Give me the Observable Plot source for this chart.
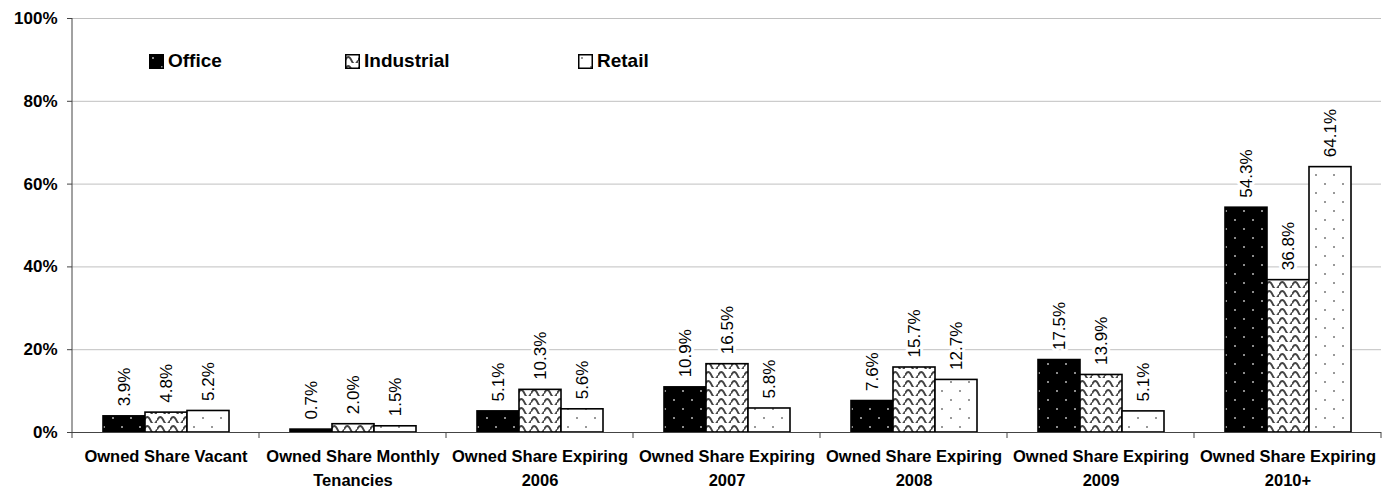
<!DOCTYPE html>
<html>
<head>
<meta charset="utf-8">
<script src="https://cdn.jsdelivr.net/npm/d3@7"></script>
<script src="https://cdn.jsdelivr.net/npm/@observablehq/plot@0.6"></script>
<style>
  html, body { margin: 0; padding: 0; background: white; }
  #wrap { position: relative; width: 1385px; height: 493px; font-family: "Liberation Sans", Arial, sans-serif; }
  .leg { position: absolute; top: 50px; display: flex; align-items: center; font-size: 19px; font-weight: bold; color: black; }
  .leg svg { margin-right: 4px; }
</style>
</head>
<body>
<div id="wrap"></div>
<script>
const categories = [
  "Owned Share Vacant",
  "Owned Share Monthly\nTenancies",
  "Owned Share Expiring\n2006",
  "Owned Share Expiring\n2007",
  "Owned Share Expiring\n2008",
  "Owned Share Expiring\n2009",
  "Owned Share Expiring\n2010+"
];
const series = ["Office", "Industrial", "Retail"];
const office     = [3.9, 0.7, 5.1, 10.9, 7.6, 17.5, 54.3];
const industrial = [4.8, 2.0, 10.3, 16.5, 15.7, 13.9, 36.8];
const retail     = [5.2, 1.5, 5.6, 5.8, 12.7, 5.1, 64.1];
const yTicks = [0, 20, 40, 60, 80, 100];

const valuesBySeries = [office, industrial, retail];
const rows = categories.flatMap((c, i) =>
  series.map((s, j) => ({category: c, series: s, value: valuesBySeries[j][i]}))
);

const chart = Plot.plot({
  width: 1385,
  height: 493,
  marginLeft: 71,
  marginRight: 4,
  marginTop: 18,
  marginBottom: 61,
  style: {fontFamily: "Liberation Sans, Arial, sans-serif", background: "white", overflow: "visible"},
  fx: {domain: categories, padding: 0, axis: null},
  x: {domain: series, paddingInner: 0, paddingOuter: 0.72, axis: null},
  y: {domain: [0, 100], axis: null},
  color: {type: "identity"},
  marks: [
    Plot.gridY(yTicks.filter(d => d > 0), {stroke: "#c0c0c0", strokeOpacity: 1}),
    Plot.axisY(yTicks, {label: null, tickFormat: d => d + "%", tickSize: 5, tickPadding: 10, fontSize: 17, fontWeight: "bold", stroke: "#444", fill: "black"}),
    Plot.axisFx({anchor: "bottom", label: null, tickSize: 0, tickPadding: 13, fontSize: 16.5, fontWeight: "bold", lineHeight: 1.45, fill: "black"}),
    Plot.barY(rows, {fx: "category", x: "series", y: "value", fill: d => `url(#pat-${d.series})`, stroke: "black", strokeWidth: 1.6}),
    Plot.text(rows, {fx: "category", x: "series", y: "value", text: d => d.value.toFixed(1) + "%", rotate: -90, textAnchor: "start", dy: -10, fontSize: 17, fill: "black", stroke: "white", strokeWidth: 6}),
    Plot.ruleY([0], {stroke: "#444"})
  ]
});

const svg = d3.select(chart);
const defs = svg.insert("defs", ":first-child");
// Office: black with light dots
const pO = defs.append("pattern").attr("id", "pat-Office").attr("patternUnits", "userSpaceOnUse").attr("width", 18).attr("height", 18);
pO.append("rect").attr("width", 18).attr("height", 18).attr("fill", "black");
pO.append("circle").attr("cx", 4).attr("cy", 4).attr("r", 1).attr("fill", "#bbb");
pO.append("circle").attr("cx", 13).attr("cy", 13).attr("r", 1).attr("fill", "#bbb");
// Industrial: white with wavy lines
const pI = defs.append("pattern").attr("id", "pat-Industrial").attr("patternUnits", "userSpaceOnUse").attr("width", 13).attr("height", 9);
pI.append("rect").attr("width", 13).attr("height", 9).attr("fill", "white");
pI.append("path").attr("d", "M0,6.5 Q3.25,-0.5 6.5,6.5 T13,6.5").attr("fill", "none").attr("stroke", "#444").attr("stroke-width", 1.8);
// Retail: white with sparse grey dots
const pR = defs.append("pattern").attr("id", "pat-Retail").attr("patternUnits", "userSpaceOnUse").attr("width", 18).attr("height", 18);
pR.append("rect").attr("width", 18).attr("height", 18).attr("fill", "white");
pR.append("circle").attr("cx", 4).attr("cy", 4).attr("r", 1).attr("fill", "#777");
pR.append("circle").attr("cx", 13).attr("cy", 13).attr("r", 1).attr("fill", "#777");

// Axis line and category-boundary ticks from the library's scales
const fx = chart.scale("fx");
const y = chart.scale("y");
const y0 = y.apply(0), y1 = y.apply(100);
const edges = categories.map(c => fx.apply(c)).concat([fx.apply(categories[categories.length - 1]) + fx.bandwidth]);
const g = svg.append("g").attr("stroke", "#444").attr("stroke-width", 1);
g.append("line").attr("x1", edges[0]).attr("x2", edges[0]).attr("y1", y1).attr("y2", y0);
g.selectAll(".t").data(edges).join("line").attr("x1", d => d).attr("x2", d => d).attr("y1", y0).attr("y2", y0 + 6);

const wrap = document.getElementById("wrap");
wrap.appendChild(chart);

// Legend
const legendLeft = [149, 345, 578];
series.forEach((s, i) => {
  const div = document.createElement("div");
  div.className = "leg";
  div.style.left = legendLeft[i] + "px";
  div.innerHTML = `<svg width="15" height="15"><rect x="0.75" y="0.75" width="13.5" height="13.5" fill="url(#pat-${s})" stroke="black" stroke-width="1.5"/></svg><span>${s}</span>`;
  wrap.appendChild(div);
});
</script>
</body>
</html>
